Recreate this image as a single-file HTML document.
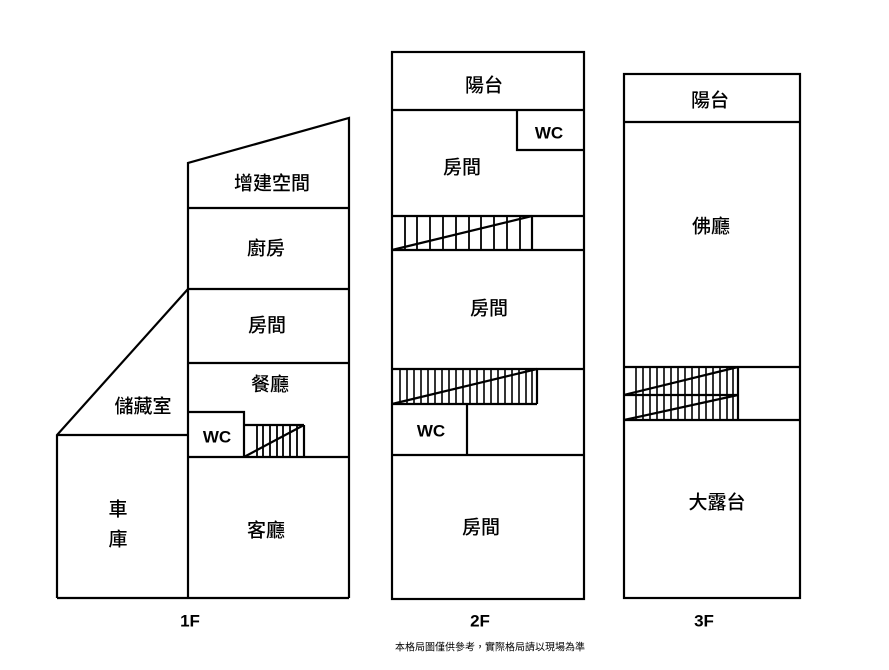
<!DOCTYPE html>
<html><head><meta charset="utf-8"><style>
body{margin:0;background:#fff}
svg text{font-family:"Liberation Sans","Noto Sans CJK TC",sans-serif;font-size:19px;font-weight:500;text-anchor:middle;dominant-baseline:central;fill:#000}
.w{font-weight:bold;font-size:17px}
</style></head><body>
<svg width="889" height="665" viewBox="0 0 889 665" xmlns="http://www.w3.org/2000/svg">
<g stroke="#000" stroke-width="2.2" fill="none">
<!-- 1F -->
<polyline points="188,598 188,163 349,118 349,598"/>
<line x1="57" y1="598" x2="349" y2="598"/>
<line x1="188" y1="208" x2="349" y2="208"/>
<line x1="188" y1="289" x2="349" y2="289"/>
<line x1="188" y1="363" x2="349" y2="363"/>
<line x1="188" y1="457" x2="349" y2="457"/>
<polyline points="188,289 57,435 57,598"/>
<line x1="57" y1="435" x2="188" y2="435"/>
<polyline points="188,412 244,412 244,457"/>
<line x1="244" y1="425" x2="304" y2="425"/>
<line x1="304" y1="425" x2="304" y2="457"/>
<line x1="244" y1="457" x2="304" y2="425"/>
<g stroke-width="1.8"><line x1="257" y1="425" x2="257" y2="457"/><line x1="263" y1="425" x2="263" y2="457"/><line x1="270" y1="425" x2="270" y2="457"/><line x1="277" y1="425" x2="277" y2="457"/><line x1="283" y1="425" x2="283" y2="457"/><line x1="290" y1="425" x2="290" y2="457"/><line x1="297" y1="425" x2="297" y2="457"/></g>
<!-- 2F -->
<rect x="392" y="52" width="192" height="547"/>
<line x1="392" y1="110" x2="584" y2="110"/>
<polyline points="517,110 517,150 584,150"/>
<line x1="392" y1="216" x2="584" y2="216"/>
<line x1="392" y1="250" x2="584" y2="250"/>
<line x1="532" y1="216" x2="532" y2="250"/>
<line x1="392" y1="250" x2="532" y2="216"/>
<g stroke-width="1.8">
<line x1="405" y1="216" x2="405" y2="250"/><line x1="417" y1="216" x2="417" y2="250"/><line x1="430" y1="216" x2="430" y2="250"/><line x1="443" y1="216" x2="443" y2="250"/><line x1="456" y1="216" x2="456" y2="250"/><line x1="469" y1="216" x2="469" y2="250"/><line x1="481" y1="216" x2="481" y2="250"/><line x1="494" y1="216" x2="494" y2="250"/><line x1="507" y1="216" x2="507" y2="250"/><line x1="520" y1="216" x2="520" y2="250"/>
</g>
<line x1="392" y1="369" x2="584" y2="369"/>
<line x1="392" y1="404" x2="537" y2="404"/>
<line x1="537" y1="369" x2="537" y2="404"/>
<line x1="392" y1="404" x2="537" y2="369"/>
<g stroke-width="1.6">
<line x1="400" y1="369" x2="400" y2="404"/><line x1="407" y1="369" x2="407" y2="404"/><line x1="414" y1="369" x2="414" y2="404"/><line x1="421" y1="369" x2="421" y2="404"/><line x1="428" y1="369" x2="428" y2="404"/><line x1="435" y1="369" x2="435" y2="404"/><line x1="442" y1="369" x2="442" y2="404"/><line x1="449" y1="369" x2="449" y2="404"/><line x1="456" y1="369" x2="456" y2="404"/><line x1="463" y1="369" x2="463" y2="404"/><line x1="470" y1="369" x2="470" y2="404"/><line x1="477" y1="369" x2="477" y2="404"/><line x1="484" y1="369" x2="484" y2="404"/><line x1="491" y1="369" x2="491" y2="404"/><line x1="498" y1="369" x2="498" y2="404"/><line x1="505" y1="369" x2="505" y2="404"/><line x1="512" y1="369" x2="512" y2="404"/><line x1="519" y1="369" x2="519" y2="404"/><line x1="526" y1="369" x2="526" y2="404"/><line x1="532" y1="369" x2="532" y2="404"/>
</g>
<line x1="467" y1="404" x2="467" y2="455"/>
<line x1="392" y1="455" x2="584" y2="455"/>
<!-- 3F -->
<rect x="624" y="74" width="176" height="524"/>
<line x1="624" y1="122" x2="800" y2="122"/>
<line x1="624" y1="367" x2="800" y2="367"/>
<line x1="624" y1="420" x2="800" y2="420"/>
<line x1="624" y1="395" x2="738" y2="395"/>
<line x1="738" y1="367" x2="738" y2="420"/>
<line x1="624" y1="395" x2="738" y2="367"/>
<line x1="624" y1="420" x2="738" y2="395"/>
<g stroke-width="1.6">
<line x1="636" y1="367" x2="636" y2="420"/><line x1="643" y1="367" x2="643" y2="420"/><line x1="650" y1="367" x2="650" y2="420"/><line x1="657" y1="367" x2="657" y2="420"/><line x1="664" y1="367" x2="664" y2="420"/><line x1="671" y1="367" x2="671" y2="420"/><line x1="678" y1="367" x2="678" y2="420"/><line x1="685" y1="367" x2="685" y2="420"/><line x1="692" y1="367" x2="692" y2="420"/><line x1="699" y1="367" x2="699" y2="420"/><line x1="706" y1="367" x2="706" y2="420"/><line x1="713" y1="367" x2="713" y2="420"/><line x1="720" y1="367" x2="720" y2="420"/><line x1="727" y1="367" x2="727" y2="420"/><line x1="733" y1="367" x2="733" y2="420"/>
</g>
</g>
<text x="272" y="184">增建空間</text>
<text x="266" y="249">廚房</text>
<text x="267" y="326">房間</text>
<text x="270" y="385">餐廳</text>
<text x="143" y="407">儲藏室</text>
<text class="w" x="217" y="437">WC</text>
<text x="118" y="510">車</text>
<text x="118" y="540">庫</text>
<text x="266" y="531">客廳</text>
<text x="484" y="86">陽台</text>
<text class="w" x="549" y="133">WC</text>
<text x="462" y="168">房間</text>
<text x="489" y="309">房間</text>
<text class="w" x="431" y="431">WC</text>
<text x="481" y="528">房間</text>
<text x="710" y="101">陽台</text>
<text x="711" y="227">佛廳</text>
<text x="717" y="503">大露台</text>
<text class="w" x="190" y="621">1F</text>
<text class="w" x="480" y="621">2F</text>
<text class="w" x="704" y="621">3F</text>
<text x="490" y="648" style="font-size:10px;font-weight:normal">本格局圖僅供參考，實際格局請以現場為準</text>
</svg>
</body></html>
